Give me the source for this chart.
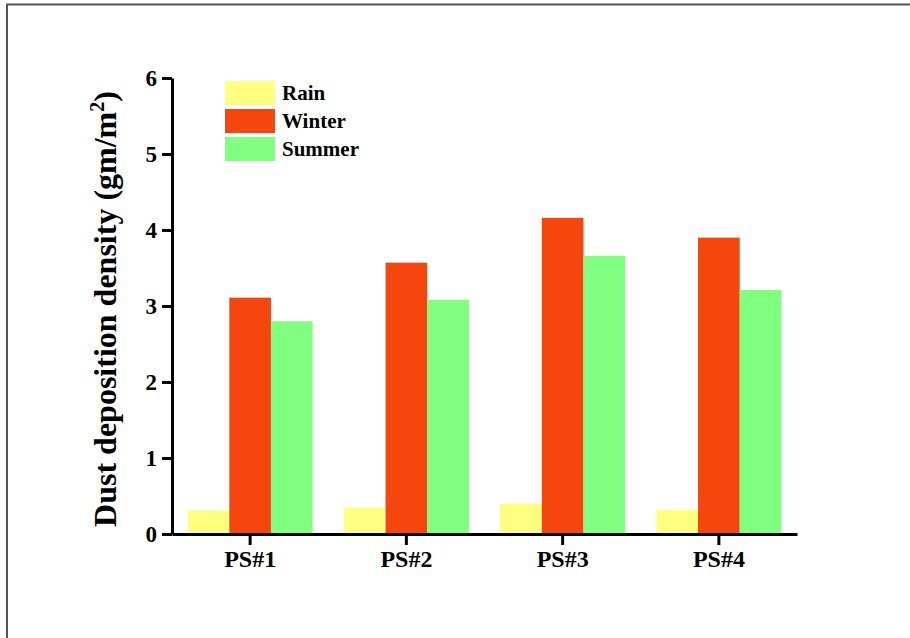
<!DOCTYPE html>
<html lang="en">
  <head>
    <meta charset="UTF-8" />
    <title>Dust deposition density</title>
    <script src="https://d3js.org/d3.v7.min.js"></script>
    <style>
      body {
        margin: 0;
        background: #ffffff;
        font-family: 'Liberation Serif', 'Times New Roman', serif;
      }
      svg {
        display: block;
      }
    </style>
  </head>
  <body>
    <div id="chart"></div>
    <script>
      const sites = ['PS#1', 'PS#2', 'PS#3', 'PS#4'];
      const seasons = ['Rain', 'Winter', 'Summer'];
      const rain = [0.31, 0.35, 0.4, 0.32];
      const winter = [3.11, 3.57, 4.16, 3.9];
      const summer = [2.8, 3.08, 3.66, 3.21];
      const yTicks = [0, 1, 2, 3, 4, 5, 6];

      const seriesValues = [rain, winter, summer];
      const colors = ['#ffff80', '#f5460e', '#80ff80'];

      const W = 910,
        H = 638;
      const m = { left: 172, right: 113, top: 78, bottom: 104 };

      const svg = d3
        .select('#chart')
        .append('svg')
        .attr('width', W)
        .attr('height', H);

      // frame (only top and left edges visible)
      svg
        .append('path')
        .attr('d', `M7,${H} V4.5 H${W}`)
        .attr('fill', 'none')
        .attr('stroke', '#555')
        .attr('stroke-width', 2);

      const x = d3
        .scaleBand()
        .domain(sites)
        .range([m.left, W - m.right])
        .paddingInner(0.2)
        .paddingOuter(0.1);
      const xTick = d3
        .scaleBand()
        .domain(sites)
        .range([m.left, W - m.right]);
      const xs = d3
        .scaleBand()
        .domain(seasons)
        .range([0, x.bandwidth()]);
      const y = d3
        .scaleLinear()
        .domain([0, 6])
        .range([H - m.bottom, m.top]);

      // bars
      seasons.forEach((s, si) => {
        svg
          .append('g')
          .selectAll('rect')
          .data(sites)
          .join('rect')
          .attr('x', (d) => x(d) + xs(s))
          .attr('y', (d, i) => y(seriesValues[si][i]))
          .attr('width', xs.bandwidth())
          .attr('height', (d, i) => y(0) - y(seriesValues[si][i]))
          .attr('fill', colors[si]);
      });

      // axes
      const yAxis = svg
        .append('g')
        .attr('transform', `translate(${m.left},0)`)
        .call(
          d3
            .axisLeft(y)
            .tickValues(yTicks)
            .tickFormat(d3.format('d'))
            .tickSize(10)
            .tickSizeOuter(0)
            .tickPadding(5),
        );
      const xAxis = svg
        .append('g')
        .attr('transform', `translate(0,${y(0)})`)
        .call(
          d3
            .axisBottom(xTick)
            .tickSize(11)
            .tickSizeOuter(0)
            .tickPadding(5),
        );
      [yAxis, xAxis].forEach((a) => {
        a.select('.domain').attr('stroke-width', 3);
        a.selectAll('.tick line').attr('stroke-width', 3);
        a.selectAll('text')
          .attr('fill', '#000')
          .style('font-family', "'Liberation Serif', serif")
          .style('font-weight', 'bold')
          .style('font-size', '23px');
      });
      xAxis.selectAll('text').style('font-size', '24px');
      yAxis.selectAll('.tick text').attr('dy', '0.34em');

      // y title
      const title = svg
        .append('text')
        .attr('transform', `translate(116,${(y(0) + y(6)) / 2 + 3}) rotate(-90)`)
        .attr('text-anchor', 'middle')
        .style('font-weight', 'bold')
        .style('font-size', '32px')
        .text('Dust deposition density (gm/m');
      title.append('tspan').attr('dy', -12).style('font-size', '20px').text('2');
      title.append('tspan').attr('dy', 12).text(')');

      // legend
      const lg = svg.append('g').attr('transform', 'translate(225,81)');
      seasons.forEach((s, i) => {
        lg.append('rect')
          .attr('x', 0)
          .attr('y', i * 28)
          .attr('width', 50)
          .attr('height', 24)
          .attr('fill', colors[i]);
        lg.append('text')
          .attr('x', 57)
          .attr('y', i * 28 + 19)
          .style('font-weight', 'bold')
          .style('font-size', '21px')
          .text(s);
      });
    </script>
  </body>
</html>
